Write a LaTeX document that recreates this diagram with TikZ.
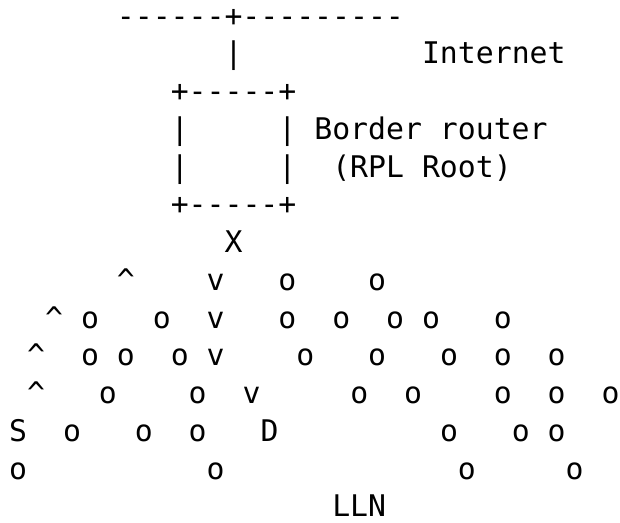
\documentclass[tikz,border=0pt]{standalone}
\usepackage{fontspec}
\setmonofont{DejaVu Sans Mono}

\begin{document}
\begin{tikzpicture}[x=17.95pt,y=-37.75pt,
    ch/.style={anchor=base west,inner sep=0pt,font=\ttfamily\fontsize{29.8pt}{38pt}\selectfont}]
    \useasboundingbox (-9pt,26pt) rectangle (611pt,-496pt);
    % uplink to the Internet
    \node[ch] (inet_line) at (6,0) {------+---------};
    \node[ch] (inet_pipe) at (12,1) {|};
    \node[ch] (inet) at (23,1) {Internet};
    % border router box
    \node[ch] (br_top) at (9,2) {+-----+};
    \node[ch] (br_l1) at (9,3) {|};
    \node[ch] (br_r1) at (15,3) {|};
    \node[ch] (br_l2) at (9,4) {|};
    \node[ch] (br_r2) at (15,4) {|};
    \node[ch] (br_bot) at (9,5) {+-----+};
    \node[ch] (br_name) at (17,3) {Border router};
    \node[ch] (br_root) at (18,4) {(RPL Root)};
    \node[ch] (root) at (12,6) {X};
    % path up and down
    \node[ch] (up7) at (6,7) {\textasciicircum};
    \node[ch] (up8) at (2,8) {\textasciicircum};
    \node[ch] (up9) at (1,9) {\textasciicircum};
    \node[ch] (up10) at (1,10) {\textasciicircum};
    \node[ch] (down7) at (11,7) {v};
    \node[ch] (down8) at (11,8) {v};
    \node[ch] (down9) at (11,9) {v};
    \node[ch] (down10) at (13,10) {v};
    \node[ch] (src) at (0,11) {S};
    \node[ch] (dst) at (14,11) {D};
    % other nodes of the LLN
    \foreach \c in {15,20} \node[ch] (o7_\c) at (\c,7) {o};
    \foreach \c in {4,8,15,18,21,23,27} \node[ch] (o8_\c) at (\c,8) {o};
    \foreach \c in {4,6,9,16,20,24,27,30} \node[ch] (o9_\c) at (\c,9) {o};
    \foreach \c in {5,10,19,22,27,30,33} \node[ch] (o10_\c) at (\c,10) {o};
    \foreach \c in {3,7,10,24,28,30} \node[ch] (o11_\c) at (\c,11) {o};
    \foreach \c in {0,11,25,31} \node[ch] (o12_\c) at (\c,12) {o};
    \node[ch] (lln) at (18,13) {LLN};
\end{tikzpicture}
\end{document}
